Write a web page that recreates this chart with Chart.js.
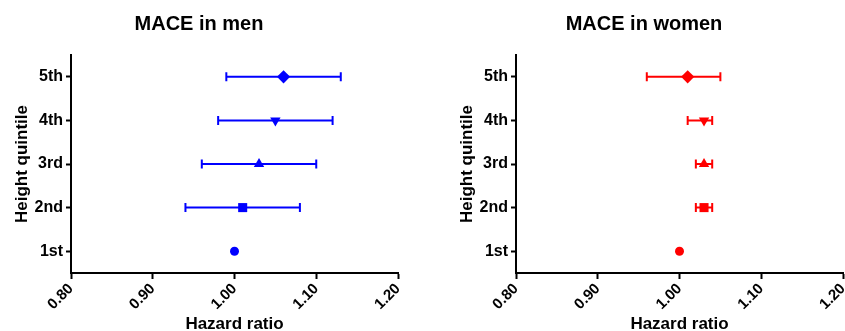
<!DOCTYPE html>
<html>
<head>
<meta charset="utf-8">
<script src="https://cdn.jsdelivr.net/npm/chart.js@4.4.1/dist/chart.umd.min.js"></script>
<style>
  html, body { margin: 0; padding: 0; background: #fff; overflow: hidden; }
  .panel { position: absolute; top: 0; width: 445px; height: 331px; }
</style>
</head>
<body>
<div class="panel" style="left:0"><canvas id="menChart" width="445" height="331"></canvas></div>
<div class="panel" style="left:445px"><canvas id="womenChart" width="445" height="331"></canvas></div>
<script>
// quintiles, bottom to top
const quintiles = ["1st", "2nd", "3rd", "4th", "5th"];
const xTicks = [0.80, 0.90, 1.00, 1.10, 1.20];

const menHR = [1.00, 1.01, 1.03, 1.05, 1.06];
const menLow = [null, 0.94, 0.96, 0.98, 0.99];
const menHigh = [null, 1.08, 1.10, 1.12, 1.13];

const womenHR = [1.00, 1.03, 1.03, 1.03, 1.01];
const womenLow = [null, 1.02, 1.02, 1.01, 0.96];
const womenHigh = [null, 1.04, 1.04, 1.04, 1.05];

const markerStyles = ["circle", "rect", "triangle", "triangle", "rectRot"];
const markerRotation = [0, 0, 0, 180, 0];
const markerRadius = [4.5, 6.4, 6, 6, 6.6];

const FONT = "'Liberation Sans', Arial, sans-serif";

const errorBars = {
    id: "errorBars",
    beforeDatasetsDraw(chart, args, opts) {
        const ctx = chart.ctx;
        const xs = chart.scales.x, ys = chart.scales.y;
        ctx.save();
        ctx.strokeStyle = opts.color;
        ctx.lineWidth = 2;
        opts.low.forEach((lo, i) => {
            const hi = opts.high[i];
            if (lo == null || hi == null) return;
            const y = ys.getPixelForValue(i + 1);
            const x1 = xs.getPixelForValue(lo);
            const x2 = xs.getPixelForValue(hi);
            ctx.beginPath();
            ctx.moveTo(x1, y); ctx.lineTo(x2, y);
            ctx.moveTo(x1, y - 4.5); ctx.lineTo(x1, y + 4.5);
            ctx.moveTo(x2, y - 4.5); ctx.lineTo(x2, y + 4.5);
            ctx.stroke();
        });
        ctx.restore();
    }
};

function makeChart(id, title, hr, low, high, color) {
    const ctx = document.getElementById(id).getContext("2d");
    return new Chart(ctx, {
        type: "scatter",
        data: {
            datasets: [{
                data: hr.map((v, i) => ({ x: v, y: i + 1 })),
                pointStyle: markerStyles,
                rotation: markerRotation,
                pointRadius: markerRadius,
                backgroundColor: color,
                borderColor: color,
                borderWidth: 0
            }]
        },
        options: {
            responsive: false,
            animation: false,
            layout: { padding: { left: 0, right: 47, top: 0, bottom: 0 } },
            plugins: {
                legend: { display: false },
                tooltip: { enabled: false },
                title: {
                    display: true,
                    text: title,
                    color: "#000",
                    font: { family: FONT, size: 20, weight: "bold" },
                    padding: { top: 12, bottom: 19 }
                },
                errorBars: { low: low, high: high, color: color }
            },
            scales: {
                x: {
                    type: "linear",
                    min: 0.8,
                    max: 1.2,
                    afterBuildTicks: s => { s.ticks = xTicks.map(v => ({ value: v })); },
                    afterFit: s => { s.height = 58; },
                    border: { display: true, color: "#000", width: 2 },
                    grid: { drawOnChartArea: false, drawTicks: true, tickLength: 6, color: "#000", tickWidth: 2 },
                    ticks: {
                        color: "#000",
                        font: { family: FONT, size: 15, weight: "bold" },
                        minRotation: 45,
                        maxRotation: 45,
                        padding: 1,
                        callback: v => Number(v).toFixed(2)
                    },
                    title: {
                        display: true,
                        text: "Hazard ratio",
                        color: "#000",
                        font: { family: FONT, size: 17, weight: "bold", lineHeight: 1 },
                        padding: { top: 0, bottom: -2 }
                    }
                },
                y: {
                    type: "linear",
                    min: 0.5,
                    max: 5.5,
                    afterBuildTicks: s => { s.ticks = quintiles.map((q, i) => ({ value: i + 1 })); },
                    afterFit: s => { s.width = 71; },
                    border: { display: true, color: "#000", width: 2 },
                    grid: { drawOnChartArea: false, drawTicks: true, tickLength: 5, color: "#000", tickWidth: 2 },
                    ticks: {
                        color: "#000",
                        font: { family: FONT, size: 16, weight: "bold" },
                        padding: 3,
                        callback: v => quintiles[Math.round(v) - 1]
                    },
                    title: {
                        display: true,
                        text: "Height quintile",
                        color: "#000",
                        font: { family: FONT, size: 17, weight: "bold" },
                        padding: { top: 12, bottom: 0 }
                    }
                }
            }
        },
        plugins: [errorBars]
    });
}

makeChart("menChart", "MACE in men", menHR, menLow, menHigh, "#0000ff");
makeChart("womenChart", "MACE in women", womenHR, womenLow, womenHigh, "#ff0000");
</script>
</body>
</html>
